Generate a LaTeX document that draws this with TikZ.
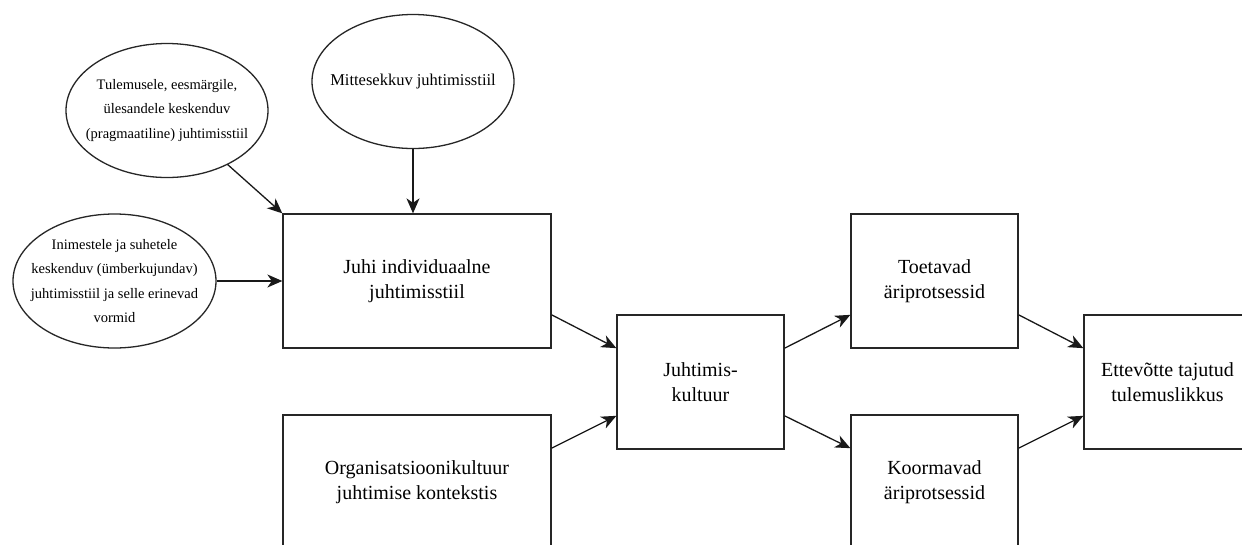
\documentclass[tikz,border=0pt]{standalone}
\usepackage{fontspec}
\setmainfont{Liberation Serif}
\usetikzlibrary{shapes.geometric,arrows.meta,calc}
\begin{document}
\begin{tikzpicture}[x=1pt,y=-1pt,
  boxnode/.style={draw=black!85,line width=1.3pt,rectangle,minimum height=134pt,inner sep=0pt,align=center,font=\fontsize{20}{25}\selectfont},
  ellnode/.style={draw=black!85,line width=1.3pt,ellipse,minimum width=202pt,minimum height=134pt,inner sep=0pt},
  elltext/.style={align=center,inner sep=0pt,font=\fontsize{14.5}{24.5}\selectfont},
  conn/.style={line width=1.3pt,draw=black!90,-{Stealth[length=15pt,width=13pt,inset=4.5pt]}}
]
\useasboundingbox (0,0) rectangle (1242,544);
\fill[white] (0,0) rectangle (1242,544);
\begin{scope}
\clip (0,0) rectangle (1242,544);
\node[boxnode,minimum width=268pt] (juhi) at (417,281) {Juhi individuaalne\\juhtimisstiil};
\node[boxnode,minimum width=268pt] (org) at (417,482) {Organisatsioonikultuur\\juhtimise kontekstis};
\node[boxnode,minimum width=167pt] (jk) at (700.5,382) {Juhtimis-\\kultuur};
\node[boxnode,minimum width=167pt] (toe) at (934.5,281) {Toetavad\\äriprotsessid};
\node[boxnode,minimum width=167pt] (koo) at (934.5,482) {Koormavad\\äriprotsessid};
\node[boxnode,minimum width=167pt] (ett) at (1167.5,382) {Ettevõtte tajutud\\tulemuslikkus};
\node[ellnode,label={[elltext]center:{Tulemusele, eesmärgile,\\ülesandele keskenduv\\(pragmaatiline) juhtimisstiil}}] (tul) at (167,110.5) {};
\node[ellnode,label={[elltext,font=\fontsize{16.5}{24}\selectfont]center:{Mittesekkuv juhtimisstiil}}] (mit) at (413,81.5) {};
\node[ellnode,minimum width=203pt,label={[elltext]center:{Inimestele ja suhetele\\keskenduv (ümberkujundav)\\juhtimisstiil ja selle erinevad\\vormid}}] (ini) at (114.5,281) {};

\draw[conn] (tul) -- (juhi.north west);
\draw[conn] (mit.south) -- (mit.south |- juhi.north);
\draw[conn] (ini.east) -- (ini.east -| juhi.west);
\draw[conn] ($(juhi.north east)!0.75!(juhi.south east)$) -- ($(jk.north west)!0.25!(jk.south west)$);
\draw[conn] ($(org.north east)!0.25!(org.south east)$) -- ($(jk.north west)!0.75!(jk.south west)$);
\draw[conn] ($(jk.north east)!0.25!(jk.south east)$) -- ($(toe.north west)!0.75!(toe.south west)$);
\draw[conn] ($(jk.north east)!0.75!(jk.south east)$) -- ($(koo.north west)!0.25!(koo.south west)$);
\draw[conn] ($(toe.north east)!0.75!(toe.south east)$) -- ($(ett.north west)!0.25!(ett.south west)$);
\draw[conn] ($(koo.north east)!0.25!(koo.south east)$) -- ($(ett.north west)!0.75!(ett.south west)$);
\end{scope}
\end{tikzpicture}
\end{document}
